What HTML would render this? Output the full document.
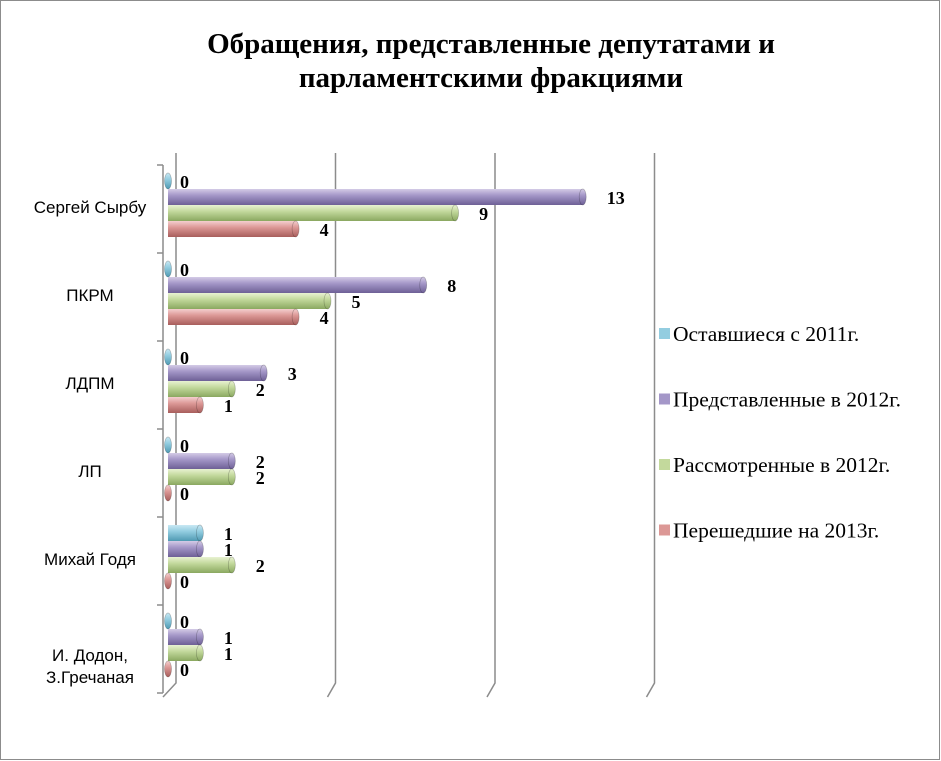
<!DOCTYPE html>
<html><head><meta charset="utf-8"><style>
body{margin:0;background:#fff}
svg{display:block}
</style></head><body>
<svg id="chart" width="941" height="761" viewBox="0 0 941 761" xmlns="http://www.w3.org/2000/svg">
<defs>
<linearGradient id="g0" x1="0" y1="0" x2="0" y2="1"><stop offset="0" stop-color="#c9e8f3"/><stop offset="0.4" stop-color="#93cde0"/><stop offset="1" stop-color="#4f9ab3"/></linearGradient>
<linearGradient id="g1" x1="0" y1="0" x2="0" y2="1"><stop offset="0" stop-color="#d4cbe6"/><stop offset="0.4" stop-color="#a497c8"/><stop offset="1" stop-color="#6e6096"/></linearGradient>
<linearGradient id="g2" x1="0" y1="0" x2="0" y2="1"><stop offset="0" stop-color="#e8f2d2"/><stop offset="0.4" stop-color="#c3d99c"/><stop offset="1" stop-color="#8aa860"/></linearGradient>
<linearGradient id="g3" x1="0" y1="0" x2="0" y2="1"><stop offset="0" stop-color="#f4cfcf"/><stop offset="0.4" stop-color="#dc9896"/><stop offset="1" stop-color="#a85e5c"/></linearGradient>
</defs>
<rect x="0.5" y="0.5" width="939" height="759" fill="#fff" stroke="#8c8c8c"/>
<text x="491" y="53" text-anchor="middle" font-family="Liberation Serif, serif" font-weight="bold" font-size="29"><tspan x="491" y="53">Обращения, представленные депутатами и</tspan><tspan x="491" y="87">парламентскими фракциями</tspan></text>
<g id="grid"></g>
<g id="bars"></g>
<g id="legend"></g>
</svg>
<script>
const categories = ["Сергей Сырбу","ПКРМ","ЛДПМ","ЛП","Михай Годя","И. Додон, З.Гречаная"];
const seriesNames = ["Оставшиеся с 2011г.","Представленные в 2012г.","Рассмотренные в 2012г.","Перешедшие на 2013г."];
const s2011 = [0,0,0,0,1,0];
const s2012 = [13,8,3,2,1,1];
const sReviewed = [9,5,2,2,2,1];
const s2013 = [4,4,1,0,0,0];
const ticks = [0,5,10,15];

const NS="http://www.w3.org/2000/svg";
const gGrid=document.getElementById('grid'), gBars=document.getElementById('bars'), gLeg=document.getElementById('legend');
const x0=168, unit=31.9, yTop=165, band=88, dx=8;
const X=v=>x0+v*unit;
function el(tag,attrs,parent){const e=document.createElementNS(NS,tag);for(const k in attrs)e.setAttribute(k,attrs[k]);parent.appendChild(e);return e;}
ticks.forEach((t,i)=>{
  const x=X(t)+dx;
  const l=el('polyline',{points:`${x},${yTop-12} ${x},${yTop+6*band-10} ${X(t)-(i==0?5:0)},${yTop+6*band+4}`,fill:'none',stroke:'#8c8c8c','stroke-width':1.5},gGrid);
  
  
});
const ax=el('line',{x1:163,y1:yTop,x2:163,y2:yTop+6*band,stroke:'#8c8c8c','stroke-width':1.5},gGrid);


for(let i=0;i<=6;i++){
  const t=el('line',{x1:157,y1:yTop+i*band,x2:163,y2:yTop+i*band,stroke:'#8c8c8c','stroke-width':1.5},gGrid);
  
  
}
categories.forEach((c,i)=>{
  const yc=yTop+i*band+band/2+4;
  const t=el('text',{x:90,'text-anchor':'middle','font-family':'Liberation Sans, sans-serif','font-size':17},gGrid);
  
  
  if(c.indexOf(', ')>0){const p=c.split(', ');
    el('tspan',{x:90,y:yc+8},t).textContent=p[0]+',';
    el('tspan',{x:90,y:yc+30},t).textContent=p[1];
  } else {t.setAttribute('y',yc);t.textContent=c;}
});
const series=[s2011,s2012,sReviewed,s2013];
series.forEach((arr,si)=>{
  arr.forEach((v,ci)=>{
    const y=yTop+ci*band+8+si*16, h=16, xe=X(v);
    const g=el('g',{},gBars);
    
    
    if(v>0){
      el('rect',{x:x0,y:y,width:xe-x0,height:h,fill:`url(#g${si})`},g);
    }
    el('ellipse',{cx:xe,cy:y+h/2,rx:3.5,ry:h/2,fill:`url(#g${si})`,stroke:'rgba(0,0,0,0.25)','stroke-width':0.7},g);
    const lbl=el('text',{x:xe+(v>0?24:12),y:y+h-1,'font-family':'Liberation Serif, serif','font-weight':'bold','font-size':18},g);
    
    
    lbl.textContent=v;
  });
});
const legCols=['#93cde0','#a497c8','#c3d99c','#dc9896'];
seriesNames.forEach((n,i)=>{
  const y=341+i*65.5;
  const g=el('g',{},gLeg);
  
  
  el('rect',{x:659,y:y-13,width:11,height:11,fill:legCols[i]},g);
  const t=el('text',{x:673,y:y,'font-family':'Liberation Serif, serif','font-size':21.5},g);
  t.textContent=n;
});
</script>
</body></html>
